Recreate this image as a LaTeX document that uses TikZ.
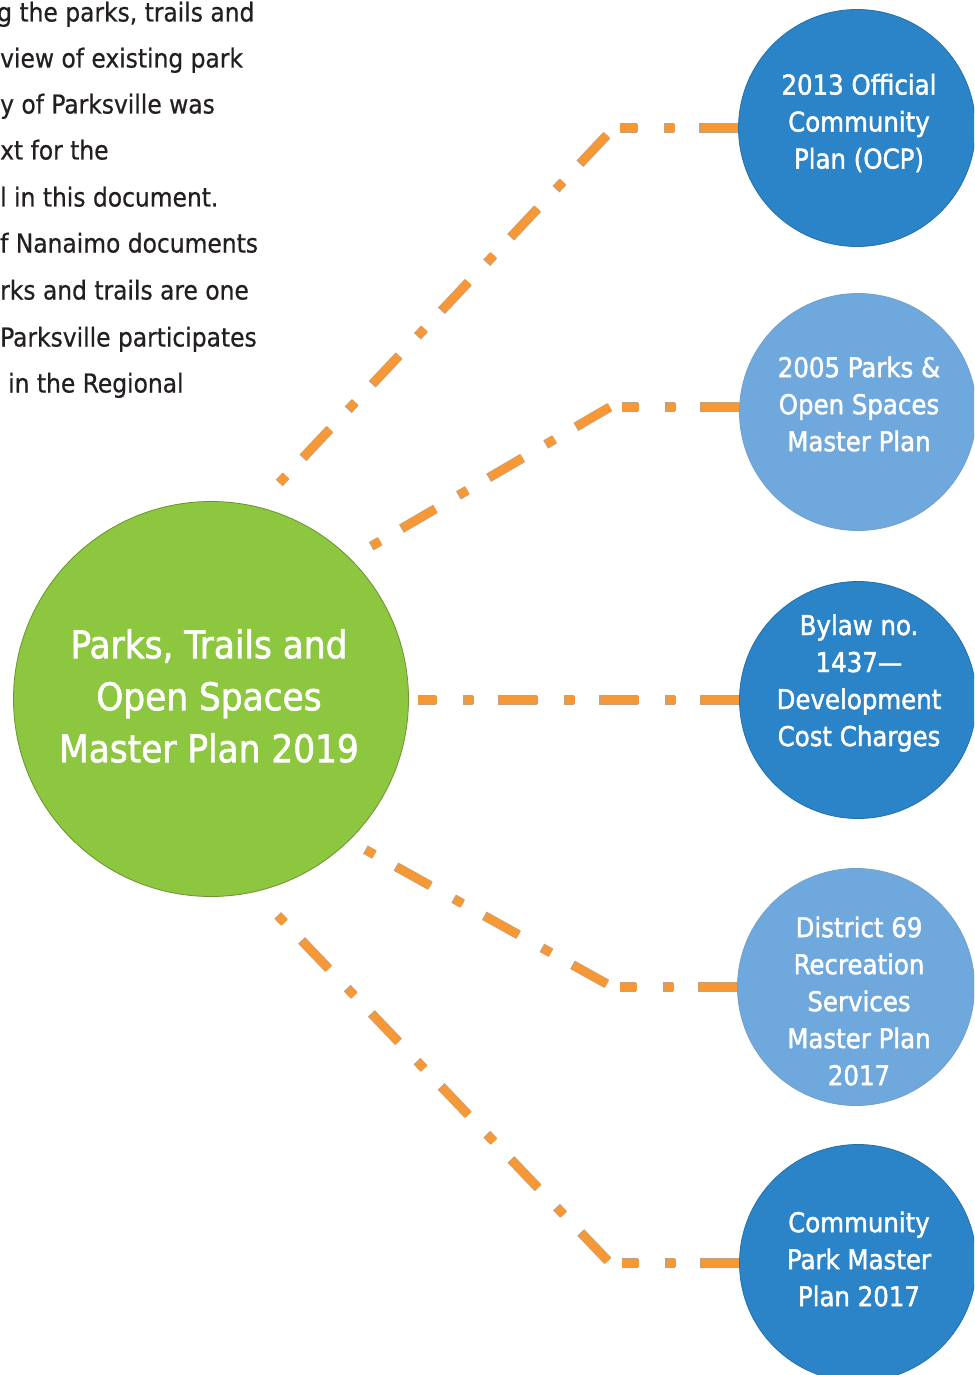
\documentclass[tikz,border=0pt]{standalone}
\usepackage{fontspec}
\setmainfont{DejaVu Sans Condensed}
\newfontfamily\circlefont[FakeBold=1.6]{DejaVu Sans Condensed}
\newfontfamily\bodyfont[FakeBold=0.6]{DejaVu Sans Condensed}
\definecolor{dblue}{RGB}{42,132,199}
\definecolor{lblue}{RGB}{111,168,221}
\definecolor{pgreen}{RGB}{141,198,63}
\definecolor{connfill}{RGB}{247,152,55}
\definecolor{connedge}{RGB}{200,160,120}
\definecolor{bodytext}{RGB}{35,31,32}
\pgfdeclarelayer{bg}
\pgfsetlayers{bg,main}
\tikzset{
  dcirc/.style={circle, fill=dblue, draw=dblue!85!black, line width=0.8pt, minimum size=237pt, inner sep=0pt, outer sep=0pt},
  lcirc/.style={circle, fill=lblue, draw=lblue!80!gray, line width=0.8pt, minimum size=237pt, inner sep=0pt, outer sep=0pt},
  gcirc/.style={circle, fill=pgreen, draw=pgreen!75!black, line width=0.8pt, minimum size=395pt, inner sep=0pt, outer sep=0pt},
  ctext/.style={text=white, align=center, inner sep=0pt, font=\circlefont\fontsize{27.2}{37}\selectfont},
  gtext/.style={text=white, align=center, inner sep=0pt, font=\circlefont\fontsize{38.2}{52}\selectfont},
  bodyline/.style={anchor=base west, text=bodytext, inner sep=0pt, font=\bodyfont\fontsize{26}{30}\selectfont},
  connline/.style={draw=connfill, line width=8pt, dash pattern=on 38pt off 26pt on 9pt off 28pt},
  connedgeline/.style={draw=connedge, line width=9.5pt, dash pattern=on 39pt off 25pt on 10pt off 27pt, dash phase=100.5pt},
}
\begin{document}
\begin{tikzpicture}[x=1pt,y=-1pt]
\useasboundingbox (0,0) rectangle (974,1375);
\clip (0,0) rectangle (974,1375);

% body text (cut at the left edge)
\node[bodyline] (l1) at (-3,21.5) {g the parks, trails and};
\node[bodyline] (l2) at (0,67.5) {view of existing park};
\node[bodyline] (l3) at (0,113.5) {y of Parksville was};
\node[bodyline] (l4) at (0,159.5) {xt for the};
\node[bodyline] (l5) at (0,206.5) {l in this document.};
\node[bodyline] (l6) at (0,252.5) {f Nanaimo documents};
\node[bodyline] (l7) at (0,299.5) {rks and trails are one};
\node[bodyline] (l8) at (0,346.5) {Parksville participates};
\node[bodyline] (l9) at (8,392.5) {in the Regional};

% circles
\node[gcirc] (g) at (211,699) {};
\node[dcirc] (c1) at (857,128) {};
\node[lcirc] (c2) at (858,412) {};
\node[dcirc] (c3) at (858,700) {};
\node[lcirc] (c4) at (856,987) {};
\node[dcirc] (c5) at (858,1263) {};

% connector coordinates
\coordinate (h1) at (620,128);
\coordinate (s1) at (607,135);
\coordinate (e1) at (279.2,483);
\coordinate (h2) at (622,407);
\coordinate (s2) at (610,407);
\coordinate (e2) at (370.7,546.6);
\coordinate (e3) at (418,700);
\coordinate (h4) at (620,987);
\coordinate (s4) at (607,984);
\coordinate (e4) at (364.9,849.3);
\coordinate (h5) at (622,1263);
\coordinate (s5) at (608,1261);
\coordinate (e5) at (277.7,915.4);

\begin{pgfonlayer}{bg}
\foreach \st in {connedgeline,connline}{
  \draw[\st] (c1.west |- h1) -- (h1);
  \draw[\st] (s1) -- (e1);
  \draw[\st] (c2.west |- h2) -- (h2);
  \draw[\st] (s2) -- (e2);
  \draw[\st] (c3.west) -- (e3);
  \draw[\st] (c4.west |- h4) -- (h4);
  \draw[\st] (s4) -- (e4);
  \draw[\st] (c5.west |- h5) -- (h5);
  \draw[\st] (s5) -- (e5);
}
\end{pgfonlayer}

% texts
\node[gtext] (gt) at (209,696) {Parks, Trails and\\Open Spaces\\Master Plan 2019};
\node[ctext] (t1) at (859,123) {2013 Official\\Community\\Plan (OCP)};
\node[ctext] (t2) at (859,404) {2005 Parks \&\\Open Spaces\\Master Plan};
\node[ctext] (t3) at (859,683) {Bylaw no.\\1437—\\Development\\Cost Charges};
\node[ctext] (t4) at (859,1001) {District 69\\Recreation\\Services\\Master Plan\\2017};
\node[ctext] (t5) at (859,1259) {Community\\Park Master\\Plan 2017};
\end{tikzpicture}
\end{document}
